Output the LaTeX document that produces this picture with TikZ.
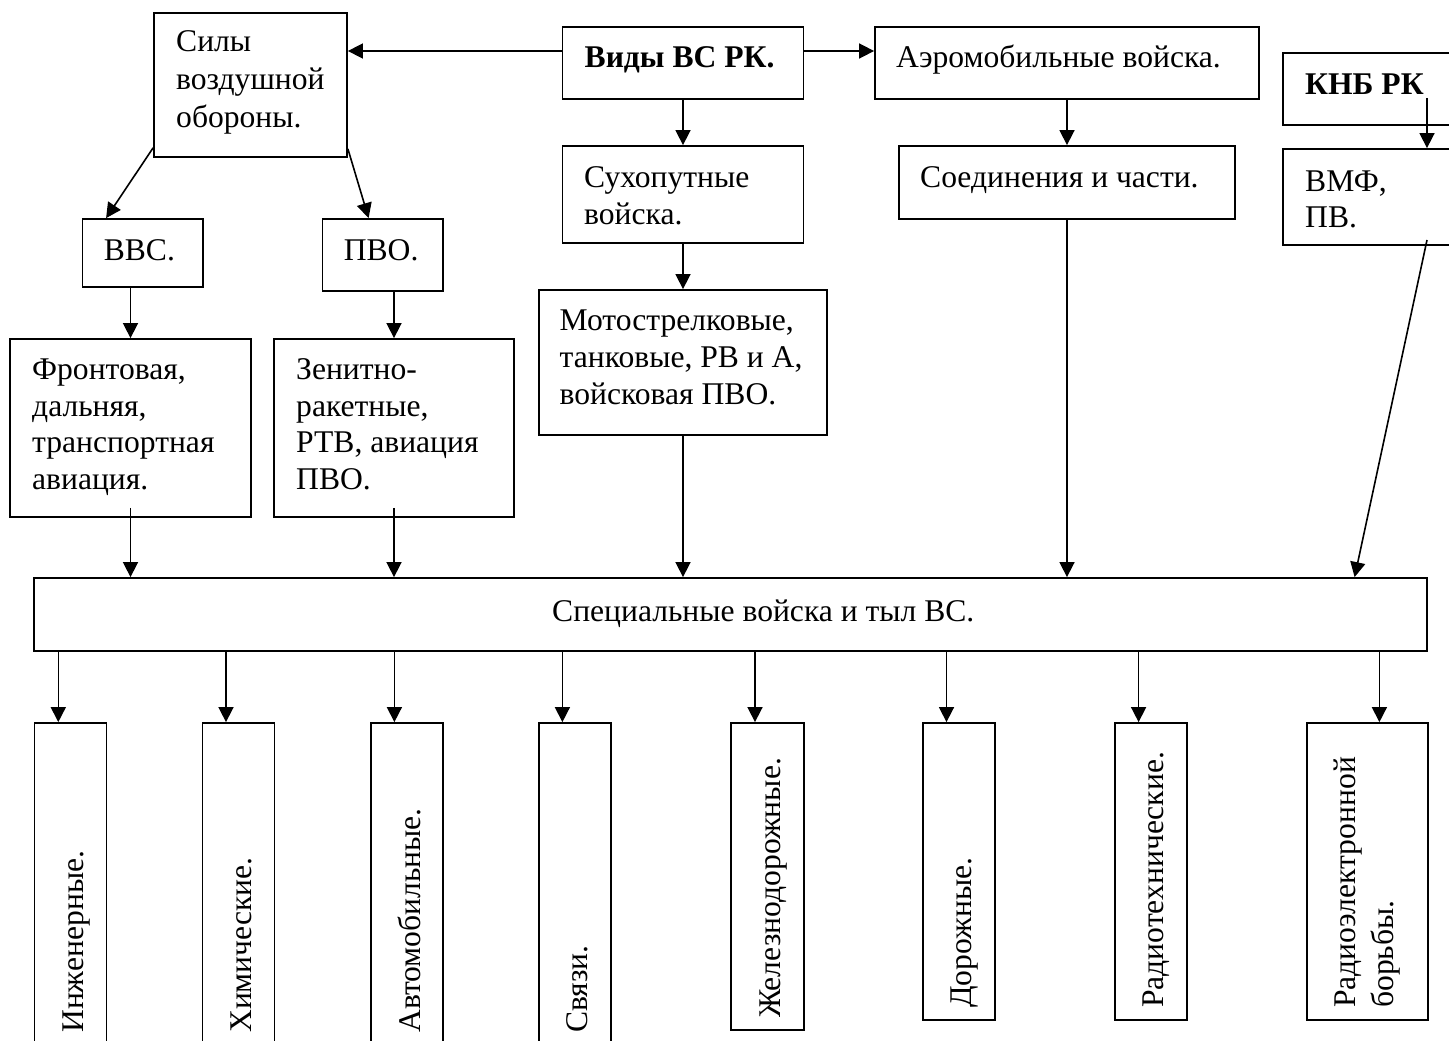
\documentclass[tikz,border=0pt]{standalone}
\usepackage{fontspec}
\setmainfont{Liberation Serif}
\usetikzlibrary{arrows.meta}
\newcommand\tf{\fontsize{31.6pt}{37pt}\selectfont}
\begin{document}
\begin{tikzpicture}[x=1pt, y=-1pt,
  box/.style={draw, line width=1.8pt, inner sep=0pt, rectangle},
  txt/.style={inner sep=0pt, anchor=base west, font=\tf},
  vtxt/.style={txt, rotate=90},
  arr/.style={line width=1.6pt, -{Triangle[length=15pt,width=15pt]}}]
\useasboundingbox (0,0) rectangle (1449,1041);
\fill[white] (0,0) rectangle (1449,1041);
% boxes
\node[box, minimum width=193pt, minimum height=144pt] (sily) at (250.5,85) {};
\node[box, minimum width=241pt, minimum height=72pt] (vidy) at (683,63) {};
\node[box, minimum width=384pt, minimum height=72pt] (aero) at (1067,63) {};
\node[box, minimum width=217pt, minimum height=72pt] (knb) at (1391.5,89) {};
\node[box, minimum width=120.5pt, minimum height=68pt] (vvs) at (142.75,253) {};
\node[box, minimum width=120.5pt, minimum height=72pt] (pvo) at (382.75,255) {};
\node[box, minimum width=241pt, minimum height=97pt] (sukh) at (683,194.5) {};
\node[box, minimum width=336pt, minimum height=73pt] (soed) at (1067,182.5) {};
\node[box, minimum width=217pt, minimum height=96pt] (vmf) at (1391.5,197) {};
\node[box, minimum width=288pt, minimum height=145pt] (moto) at (683,362.5) {};
\node[box, minimum width=241pt, minimum height=178pt] (front) at (130.5,428) {};
\node[box, minimum width=240pt, minimum height=178pt] (zenit) at (394,428) {};
\node[box, minimum width=1393pt, minimum height=73pt] (spec) at (730.5,614.5) {};
\node[box, minimum width=72pt, minimum height=327pt] (inzh) at (70.5,886.5) {};
\node[box, minimum width=72pt, minimum height=327pt] (khim) at (238.5,886.5) {};
\node[box, minimum width=72pt, minimum height=327pt] (avto) at (407,886.5) {};
\node[box, minimum width=72pt, minimum height=327pt] (svyaz) at (574.6,886.5) {};
\node[box, minimum width=72.7pt, minimum height=307pt] (zhel) at (767.35,876.5) {};
\node[box, minimum width=72.2pt, minimum height=297pt] (dor) at (958.7,871.5) {};
\node[box, minimum width=72.3pt, minimum height=297pt] (radiot) at (1150.85,871.5) {};
\node[box, minimum width=120.9pt, minimum height=297pt] (radioel) at (1367.25,871.5) {};
% texts
\node[txt] (t1a) at (176,52) {Силы};
\node[txt] (t1b) at (176,89) {воздушной};
\node[txt] (t1c) at (176,127) {обороны.};
\node[txt] (t2) at (584.5,68) {\bfseries Виды ВС РК.};
\node[txt] (t3) at (896,68) {Аэромобильные войска.};
\node[txt] (t4) at (1305,95) {\bfseries КНБ РК};
\node[txt] (t5) at (103.6,260) {ВВС.};
\node[txt] (t6) at (343.6,260) {ПВО.};
\node[txt] (t7a) at (584,187) {Сухопутные};
\node[txt] (t7b) at (584,224) {войска.};
\node[txt] (t8) at (920,187) {Соединения и части.};
\node[txt] (t9a) at (1305,191) {ВМФ,};
\node[txt] (t9b) at (1305,227) {ПВ.};
\node[txt] (t10a) at (559.5,330) {Мотострелковые,};
\node[txt] (t10b) at (559.5,367) {танковые, РВ и А,};
\node[txt] (t10c) at (559.5,404) {войсковая ПВО.};
\node[txt] (t11a) at (32,379) {Фронтовая,};
\node[txt] (t11b) at (32,416) {дальняя,};
\node[txt] (t11c) at (32,452) {транспортная};
\node[txt] (t11d) at (32,489) {авиация.};
\node[txt] (t12a) at (296,379) {Зенитно-};
\node[txt] (t12b) at (296,416) {ракетные,};
\node[txt] (t12c) at (296,452) {РТВ, авиация};
\node[txt] (t12d) at (296,489) {ПВО.};
\node[txt] (t13) at (552,621) {Специальные войска и тыл ВС.};
\node[vtxt] (v1) at (83.5,1033) {Инженерные.};
\node[vtxt] (v2) at (251.5,1033) {Химические.};
\node[vtxt] (v3) at (420,1033) {Автомобильные.};
\node[vtxt] (v4) at (587.6,1033) {Связи.};
\node[vtxt] (v5) at (780,1018) {Железнодорожные.};
\node[vtxt] (v6) at (971.6,1008) {Дорожные.};
\node[vtxt] (v7) at (1163.7,1008) {Радиотехнические.};
\node[vtxt] (v8a) at (1355.8,1008) {Радиоэлектронной};
\node[vtxt] (v8b) at (1393.3,1008) {борьбы.};
% connectors
\draw[arr] ([yshift=12pt]vidy.west) -- ([yshift=12pt]vidy.west -| sily.east);
\draw[arr] ([yshift=12pt]vidy.east) -- ([yshift=12pt]vidy.east -| aero.west);
\draw[arr] (vidy.south) -- (sukh.north);
\draw[arr] (aero.south) -- (soed.north);
\coordinate (kA) at (1427,98);
\draw[arr] (kA) -- (kA |- vmf.north);
\draw[arr] ([yshift=10pt]sily.south west) -- ([xshift=24.5pt]vvs.north west);
\draw[arr] ([yshift=9pt]sily.south east) -- ([xshift=47pt]pvo.north west);
\draw[arr] (vvs.south -| front.north) -- (front.north);
\draw[arr] (pvo.south -| zenit.north) -- (zenit.north);
\draw[arr] (sukh.south) -- (moto.north);
\draw[arr] ([yshift=10pt]front.south) -- (front.south |- spec.north);
\draw[arr] ([yshift=10pt]zenit.south) -- (zenit.south |- spec.north);
\draw[arr] (moto.south) -- (moto.south |- spec.north);
\draw[arr] (soed.south) -- (soed.south |- spec.north);
\coordinate (kB) at (1427,240);
\draw[arr] (kB) -- ([xshift=624.1pt]spec.north);
\coordinate (s1) at (58.3,651);
\coordinate (s2) at (226,651);
\coordinate (s3) at (394.4,651);
\coordinate (s4) at (562.4,651);
\coordinate (s5) at (755,651);
\coordinate (s6) at (946.5,651);
\coordinate (s7) at (1138.6,651);
\coordinate (s8) at (1379.4,651);
\draw[arr] (s1) -- (s1 |- inzh.north);
\draw[arr] (s2) -- (s2 |- khim.north);
\draw[arr] (s3) -- (s3 |- avto.north);
\draw[arr] (s4) -- (s4 |- svyaz.north);
\draw[arr] (s5) -- (s5 |- zhel.north);
\draw[arr] (s6) -- (s6 |- dor.north);
\draw[arr] (s7) -- (s7 |- radiot.north);
\draw[arr] (s8) -- (s8 |- radioel.north);
\end{tikzpicture}
\end{document}
